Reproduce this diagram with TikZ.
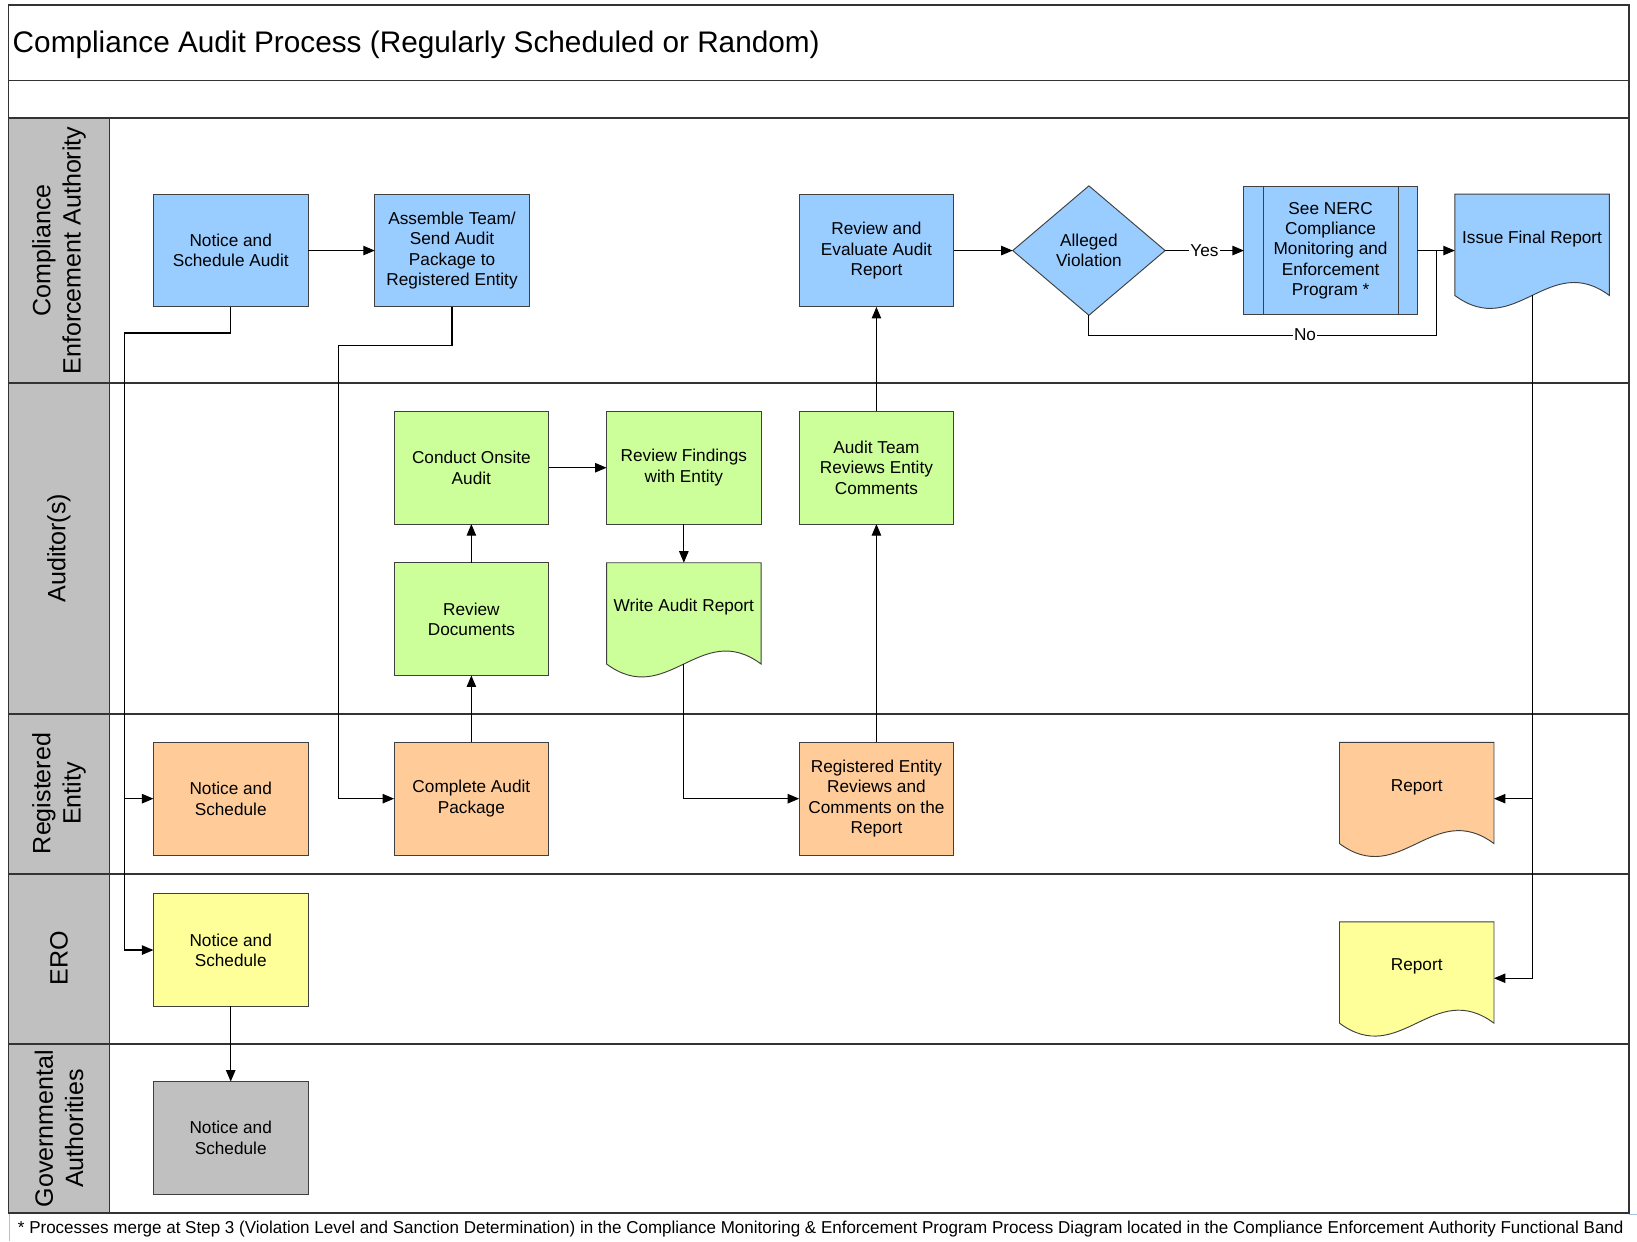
\documentclass[tikz,border=0pt]{standalone}
\usepackage{fontspec}
\setmainfont{Liberation Sans}
\usetikzlibrary{arrows.meta,shapes.geometric,calc,backgrounds}
\definecolor{cblue}{HTML}{99CCFF}
\definecolor{cgreen}{HTML}{CCFF99}
\definecolor{corange}{HTML}{FFCC99}
\definecolor{cyellow}{HTML}{FFFF99}
\definecolor{cgray}{HTML}{C0C0C0}
\definecolor{framecol}{HTML}{333333}
\definecolor{boxcol}{HTML}{404040}
\definecolor{lightblue}{HTML}{A8C4E0}
\pgfdeclarelayer{bg}
\pgfsetlayers{bg,background,main}
\newcommand\docshape[2]{%
  \begin{scope}[on background layer]
    \draw[boxline,fill=#2] (#1.north west) -- (#1.north east) -- ([yshift=-97pt]#1.north east)
      .. controls ([xshift=-58pt,yshift=-54pt]#1.north east) and ([xshift=58pt,yshift=-140pt]#1.north west) .. ([yshift=-97pt]#1.north west) -- cycle;
  \end{scope}}
\begin{document}
\begin{tikzpicture}[x=1pt,y=-1pt,
  boxline/.style={draw=boxcol,line width=0.9pt},
  frameline/.style={draw=framecol,line width=1.6pt},
  proc/.style={rectangle,boxline,minimum width=148pt,minimum height=108pt,inner sep=0pt,outer sep=0pt,align=center,font=\fontsize{16.5}{19.5}\selectfont},
  doc/.style={rectangle,draw=none,minimum width=148pt,minimum height=108pt,inner sep=0pt,outer sep=0pt,align=center,text height=12pt,text depth=26pt,font=\fontsize{16.5}{19.5}\selectfont},
  dia/.style={diamond,boxline,fill=cblue,minimum width=146pt,minimum height=124pt,inner sep=0pt,outer sep=0pt,align=center,font=\fontsize{16.5}{19.5}\selectfont},
  lanelbl/.style={rotate=90,align=center,inner sep=0pt,font=\fontsize{24}{29}\selectfont},
  conn/.style={draw=black,line width=1.1pt,-{Triangle[length=11pt,width=9pt]}},
  plain/.style={draw=black,line width=1.1pt},
  lbl/.style={fill=white,inner sep=1pt,font=\fontsize{16.5}{19.5}\selectfont}
]
\useasboundingbox (0,0) rectangle (1568,1189);
\begin{pgfonlayer}{bg}
  \fill[white] (0,0) rectangle (1568,1189);
\end{pgfonlayer}

% frame and lanes
\fill[cgray] (8,113) rectangle (105,1162);
\draw[frameline] (8,5) rectangle (1560,1162);
\draw[frameline] (8,77) -- (1560,77);
\draw[frameline] (8,113) -- (1560,113);
\foreach \yy in {367,684,837,1000} {\draw[frameline] (8,\yy) -- (1560,\yy);}
\draw[frameline] (105,113) -- (105,1162);
\draw[lightblue,line width=0.9pt] (9.5,1163) -- (9.5,1189);
\draw[lightblue,line width=0.9pt] (1560,1163) -- (1568,1163);

% title
\node[anchor=west,inner sep=0pt,font=\fontsize{28.5}{32}\selectfont] (title) at (12,42.5) {Compliance Audit Process (Regularly Scheduled or Random)};

% lane labels
\node[lanelbl] (l1) at (56.5,240) {Compliance\\Enforcement Authority};
\node[lanelbl] (l2) at (56.5,525) {Auditor(s)};
\node[lanelbl] (l3) at (56.5,760) {Registered\\Entity};
\node[lanelbl] (l4) at (56.5,918) {ERO};
\node[lanelbl] (l5) at (56.5,1081) {Governmental\\Authorities};

% CEA lane
\node[proc,fill=cblue] (n1) at (221,240) {Notice and\\Schedule Audit};
\node[proc,fill=cblue] (n2) at (433,240) {Assemble Team/\\Send Audit\\Package to\\Registered Entity};
\node[proc,fill=cblue] (n3) at (839.5,240) {Review and\\Evaluate Audit\\Report};
\node[dia] (dia) at (1043,240) {Alleged\\Violation};
\node[proc,fill=cblue,minimum width=166pt,minimum height=122pt] (pre) at (1274.5,240) {See NERC\\Compliance\\Monitoring and\\Enforcement\\Program *};
\draw[boxline] ([xshift=19pt]pre.north west) -- ([xshift=19pt]pre.south west);
\draw[boxline] ([xshift=-18pt]pre.north east) -- ([xshift=-18pt]pre.south east);
\node[doc] (ifr) at (1467.5,240) {Issue Final Report};
\docshape{ifr}{cblue}

% Auditor lane
\node[proc,fill=cgreen] (coa) at (451.5,448) {Conduct Onsite\\Audit};
\node[proc,fill=cgreen] (rfe) at (655,448) {Review Findings\\with Entity};
\node[proc,fill=cgreen] (atr) at (839.5,448) {Audit Team\\Reviews Entity\\Comments};
\node[proc,fill=cgreen] (rd) at (451.5,593) {Review\\Documents};
\node[doc] (war) at (655,593) {Write Audit Report};
\docshape{war}{cgreen}

% Registered Entity lane
\node[proc,fill=corange] (re1) at (221,765) {Notice and\\Schedule};
\node[proc,fill=corange] (cap) at (451.5,765) {Complete Audit\\Package};
\node[proc,fill=corange] (rer) at (839.5,765) {Registered Entity\\Reviews and\\Comments on the\\Report};
\node[doc] (rep1) at (1357,765) {Report};
\docshape{rep1}{corange}

% ERO lane
\node[proc,fill=cyellow] (ero1) at (221,910) {Notice and\\Schedule};
\node[doc] (rep2) at (1357,937) {Report};
\docshape{rep2}{cyellow}

% Governmental lane
\node[proc,fill=cgray] (gov1) at (221,1090) {Notice and\\Schedule};

% connectors
\coordinate (j1) at (119,319);
\coordinate (j2) at (324,331);
\coordinate (jno) at (1376,321);
\draw[conn] (n1.east) -- (n2.west);
\draw[conn] (n1.south) |- (j1) |- (ero1.west);
\draw[conn] (j1) |- (re1.west);
\draw[conn] (ero1.south) -- (gov1.north);
\draw[conn] (n2.south) |- (j2) |- (cap.west);
\draw[conn] (cap.north) -- (rd.south);
\draw[conn] (rd.north) -- (coa.south);
\draw[conn] (coa.east) -- (rfe.west);
\draw[conn] (rfe.south) -- (war.north);
\draw[conn] ([yshift=11pt]war.south) |- (rer.west);
\draw[conn] (rer.north) -- (atr.south);
\draw[conn] (atr.north) -- (n3.south);
\draw[conn] (n3.east) -- (dia.west);
\draw[conn] (dia.east) -- node[lbl] (yes) {Yes} (pre.west);
\draw[conn] (pre.east) -- (ifr.west);
\draw[plain] (dia.south) |- (jno) -- (jno |- pre.east);
\node[lbl] (no) at (1250,321) {No};
\draw[conn] ([yshift=11pt]ifr.south) |- (rep2.east);
\draw[conn] (ifr.south |- rep1.east) -- (rep1.east);

% footnote
\node[anchor=west,inner sep=0pt] (foot) at (17,1177) {\resizebox{1538pt}{\height}{\fontsize{16.5}{18}\selectfont * Processes merge at Step 3 (Violation Level and Sanction Determination) in the Compliance Monitoring \& Enforcement Program Process Diagram located in the Compliance Enforcement Authority Functional Band}};
\end{tikzpicture}
\end{document}
